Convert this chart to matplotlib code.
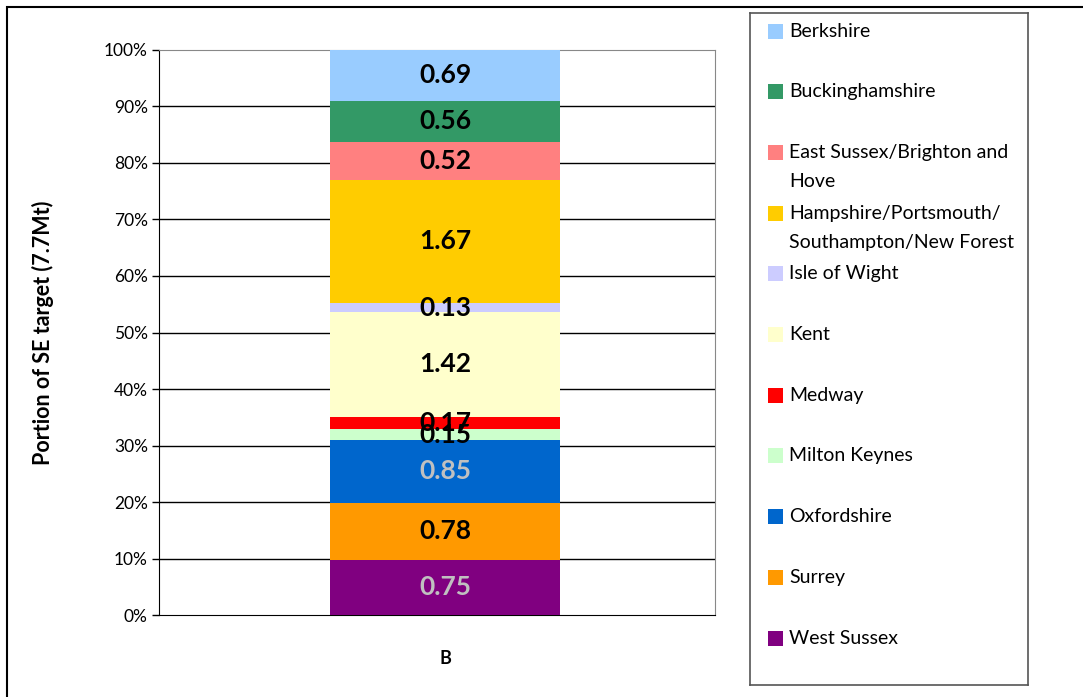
import matplotlib.pyplot as plt
from matplotlib.patches import Rectangle
import numpy as np

plt.rcParams['font.family'] = ['Lato', 'DejaVu Sans']

# regions, bottom of the stack first
regions = ['West Sussex', 'Surrey', 'Oxfordshire', 'Milton Keynes', 'Medway', 'Kent',
           'Isle of Wight', 'Hampshire/Portsmouth/\nSouthampton/New Forest',
           'East Sussex/Brighton and\nHove', 'Buckinghamshire', 'Berkshire']
values = [0.75, 0.78, 0.85, 0.15, 0.17, 1.42, 0.13, 1.67, 0.52, 0.56, 0.69]
colors = ['#800080', '#FF9900', '#0066CC', '#CCFFCC', '#FF0000', '#FFFFCC',
          '#CCCCFF', '#FFCC00', '#FF8080', '#339966', '#99CCFF']
label_colors = ['#C0C0C0', 'black', '#C0C0C0', 'black', 'black', 'black',
                'black', 'black', 'black', 'black', 'black']
category = 'B'

fig = plt.figure(figsize=(10.83, 6.97), dpi=100)

# outer chart frame
fig.patches.append(Rectangle((7 / 1083, -0.05), 1.1, 1 - 7 / 697 + 0.05, transform=fig.transFigure,
                             fill=False, edgecolor='black', linewidth=1.5))

ax = fig.add_axes([0.1468, 0.1176, 0.5134, 0.8107])

total = sum(values)
shares = np.array(values) / total
bottoms = np.concatenate([[0], np.cumsum(shares)[:-1]])

ax.bar(0, shares, bottom=bottoms, width=0.414, color=colors, zorder=3)
for v, s, b, lc in zip(values, shares, bottoms, label_colors):
    ax.text(0, b + s / 2, '{:.2f}'.format(v), ha='center', va='center',
            fontsize=19, fontweight='bold', color=lc, zorder=4)

ax.set_xlim(-0.515, 0.485)
ax.set_ylim(0, 1)
ax.set_yticks(np.arange(0, 1.01, 0.1))
ax.set_yticklabels(['{}%'.format(int(round(t * 100))) for t in np.arange(0, 1.01, 0.1)], fontsize=12.5)
ax.tick_params(axis='y', length=5, width=1, pad=3)
ax.set_xticks([0])
ax.set_xticklabels([category], fontsize=13, fontweight='bold')
ax.tick_params(axis='x', length=0, pad=25)

for t in np.arange(0.1, 0.95, 0.1):
    ax.axhline(t, color='black', linewidth=1, zorder=1)

ax.spines['left'].set_color('black')
ax.spines['bottom'].set_color('black')
ax.spines['top'].set_color('#888888')
ax.spines['right'].set_color('#888888')

ax.set_ylabel('Portion of SE target (7.7Mt)', fontsize=15.5, fontweight='bold')
ax.yaxis.set_label_coords(-0.188, 0.5)

# legend box drawn in pixel-like units
lax = fig.add_axes([0.6925, 0.0172, 0.2567, 0.9641])
lax.set_xlim(0, 278)
lax.set_ylim(672, 0)
lax.set_xticks([])
lax.set_yticks([])
for sp in lax.spines.values():
    sp.set_color('#555555')
    sp.set_linewidth(1.2)

for i, (name, c) in enumerate(zip(regions[::-1], colors[::-1])):
    y = 18 + i * 60.7
    lax.add_patch(Rectangle((18, y - 7.5), 15, 15, facecolor=c, edgecolor='none'))
    for k, line in enumerate(name.split('\n')):
        lax.text(39, y + k * 29, line, fontsize=14, va='center', ha='left')

fig.savefig('out.png', dpi=100)
